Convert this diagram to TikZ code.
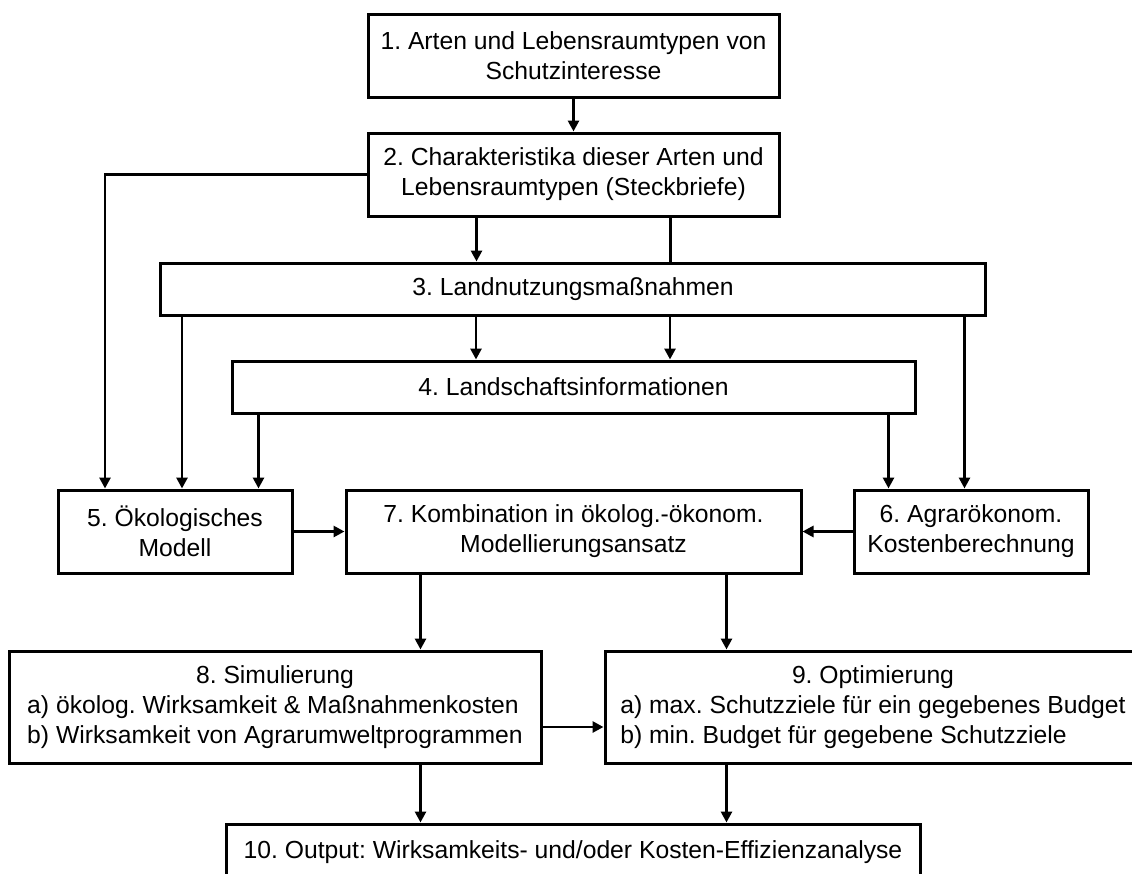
\documentclass[tikz,border=0pt]{standalone}
\usepackage{fontspec}
\setmainfont{Liberation Sans}
\usetikzlibrary{arrows.meta}

\begin{document}
\frenchspacing
\begin{tikzpicture}[x=1pt, y=-1pt,
		box/.style={draw, line width=3pt, inner sep=0pt, align=center,
		font=\fontsize{24.7}{30}\selectfont},
		arr/.style={line width=2.8pt, -{Triangle[length=11pt, width=11pt]}},
		lin/.style={line width=2.8pt}]
		\useasboundingbox (0, 0) rectangle (1132, 873);

		\node [box, minimum width=411pt, minimum height=83pt] (arten) at (573.5, 55.5)
		{1. Arten und Lebensraumtypen von\\Schutzinteresse};
		\node [box, minimum width=411pt, minimum height=83pt] (char) at (573.5, 174.5)
		{2. Charakteristika dieser Arten und\\Lebensraumtypen (Steckbriefe)};
		\node [box, minimum width=825pt, minimum height=52pt] (land) at (573, 289)
		{3. Landnutzungsmaßnahmen};
		\node [box, minimum width=683pt, minimum height=52pt] (lands) at (573.5, 387)
		{4. Landschaftsinformationen};

		\node [box, minimum width=234pt, minimum height=83pt] (oeko) at (175, 531.5)
		{5. Ökologisches\\Modell};
		\node [box, minimum width=455pt, minimum height=83pt] (komb) at (573.5, 531.5)
		{7. Kombination in ökolog.-ökonom.\\Modellierungsansatz};
		\node [box, minimum width=234pt, minimum height=83pt] (agrar) at (971, 531.5)
		{6. Agrarökonom.\\Kostenberechnung};

		\node [box, minimum width=532pt, minimum height=112pt] (sim) at (275, 707)
		{\begin{tabular}{@{}l@{}}\multicolumn{1}{@{}c@{}}{8. Simulierung}\\
		a) ökolog. Wirksamkeit \& Maßnahmenkosten\\
		b) Wirksamkeit von Agrarumweltprogrammen\end{tabular}};
		\node [box, minimum width=536pt, minimum height=112pt] (opt) at (873, 707)
		{\begin{tabular}{@{}l@{}}\multicolumn{1}{@{}c@{}}{9. Optimierung}\\
		a) max. Schutzziele für ein gegebenes Budget\\
		b) min. Budget für gegebene Schutzziele\end{tabular}};

		\node [box, minimum width=694pt, minimum height=56pt] (out) at (573, 852)
		{10. Output: Wirksamkeits- und/oder Kosten-Effizienzanalyse};

		% obere Kette
		\draw [arr] (arten) -- (char);
		\draw [arr] (char.west) -| ([xshift=48.5pt]oeko.north west);
		\draw [arr] ([xshift=-97pt]char.south) -- ([xshift=-97pt]char.south |- land.north);
		\draw [lin] ([xshift=97pt]char.south) -- ([xshift=97pt]char.south |- land.north);
		\draw [arr] ([xshift=-97pt]land.south) -- ([xshift=-97pt]land.south |- lands.north);
		\draw [arr] ([xshift=97pt]land.south) -- ([xshift=97pt]land.south |- lands.north);

		% Zuflüsse zu 5 und 6
		\draw [arr] ([xshift=23pt]land.south west) -- ([xshift=23pt]land.south west |- oeko.north);
		\draw [arr] ([xshift=28pt]lands.south west) -- ([xshift=28pt]lands.south west |- oeko.north);
		\draw [arr] ([xshift=-28pt]lands.south east) -- ([xshift=-28pt]lands.south east |- agrar.north);
		\draw [arr] ([xshift=-22.5pt]land.south east) -- ([xshift=-22.5pt]land.south east |- agrar.north);

		\draw [arr] (oeko) -- (komb);
		\draw [arr] (agrar) -- (komb);

		% untere Kette
		\draw [arr] ([xshift=76pt]komb.south west) -- ([xshift=76pt]komb.south west |- sim.north);
		\draw [arr] ([xshift=-76pt]komb.south east) -- ([xshift=-76pt]komb.south east |- opt.north);
		\draw [arr] ([yshift=-20pt]sim.east) -- ([yshift=-20pt]sim.east -| opt.west);
		\draw [arr] ([xshift=76pt]komb.south west |- sim.south) -- ([xshift=76pt]komb.south west |- out.north);
		\draw [arr] ([xshift=-76pt]komb.south east |- opt.south) -- ([xshift=-76pt]komb.south east |- out.north);

	\end{tikzpicture}
\end{document}
